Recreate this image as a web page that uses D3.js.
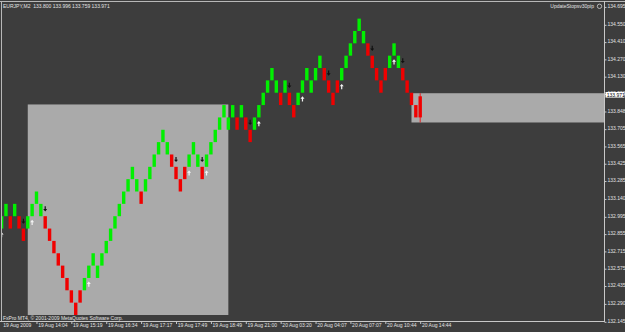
<!DOCTYPE html>
<html>
<head>
<meta charset="utf-8">
<script src="https://cdn.jsdelivr.net/npm/d3@7"></script>
<style>
  body { margin: 0; background: #3d3d3d; }
  svg { display: block; }
  text { font-family: "Liberation Sans", Arial, sans-serif; font-size: 5px; fill: #e2e2e2; }
</style>
</head>
<body>
<div id="chart"></div>
<script>
const width = 625;
const height = 332;

// renko bricks: low price of each brick and its colour (G = up, R = down)
const brickLow = [
  132.9, 133.0, 132.9, 133.0, 132.9, 132.8, 132.9, 133.0, 133.1, 133.0,
  132.9, 132.8, 132.7, 132.6, 132.5, 132.4, 132.3, 132.2, 132.3, 132.4,
  132.5, 132.6, 132.5, 132.6, 132.7, 132.8, 132.9, 133.0, 133.1, 133.2,
  133.3, 133.2, 133.1, 133.2, 133.3, 133.4, 133.5, 133.6, 133.5, 133.4,
  133.3, 133.2, 133.3, 133.4, 133.5, 133.4, 133.3, 133.4, 133.5, 133.6,
  133.7, 133.8, 133.7, 133.8, 133.7, 133.8, 133.7, 133.6, 133.7, 133.8,
  133.9, 134.0, 134.1, 134.0, 133.9, 134.0, 133.9, 133.8, 133.9, 134.0,
  134.1, 134.0, 134.1, 134.2, 134.1, 134.0, 133.9, 134.0, 134.1, 134.2,
  134.3, 134.4, 134.5, 134.4, 134.3, 134.2, 134.1, 134.0, 134.1, 134.2,
  134.3, 134.2, 134.1, 134.0, 133.9, 133.8
];
const brickColor = ("GGRGRRGGGG" + "RRRRRRRRRG" + "GGGGGGGGGG" + "GGRGGGGGGR" + "RRRGGGRGGG" +
                    "GGGGRGRRGG" + "GGGGRGRRGG" + "GGGGRRRRGG" + "GGGGRRRRRG" + "GGRRRR").split("");
const brickSize = 0.10;

// current (forming) bar, O H L C
const lastBar = { open: 133.800, high: 133.996, low: 133.759, close: 133.971 };

// signal arrows (bar numbers)
const buyBars = [1, 8, 21, 44, 48, 60, 70, 79, 91];
const sellBars = [6, 11, 41, 47, 58, 67, 76, 86, 93];

// shaded zones
const zoneLeft = { from: 7, to: 53, top: 133.905, bottom: 132.2 };
const zoneRight = { from: 95, top: 133.996, bottom: 133.759 };

// axis labels
const priceTicks = [134.695, 134.550, 134.410, 134.270, 134.130, 133.990, 133.848, 133.705, 133.565,
  133.425, 133.285, 133.140, 132.995, 132.855, 132.715, 132.575, 132.435, 132.290, 132.145];
const timeTickBars = [1, 9, 17, 25, 33, 41, 49, 57, 65, 73, 81, 89, 97];
const timeLabels = ["19 Aug 2009", "19 Aug 14:04", "19 Aug 15:19", "19 Aug 16:34", "19 Aug 17:17",
  "19 Aug 17:49", "19 Aug 18:49", "19 Aug 21:00", "20 Aug 03:20", "20 Aug 04:07",
  "20 Aug 07:07", "20 Aug 10:44", "20 Aug 14:44"];

const plotRight = 605;
const plotBottom = 322;

const svg = d3.select("#chart").append("svg")
  .attr("width", width)
  .attr("height", height);

svg.append("rect").attr("width", width).attr("height", height).attr("fill", "#3d3d3d");

const x = d3.scaleLinear().domain([1, 97]).range([1.6, 420.2]);
const y = d3.scaleLinear().domain([132.2, 134.695]).range([315, 6.9]);
const barW = 3.4;

const plot = svg.append("g");
plot.append("clipPath").attr("id", "clip")
  .append("rect").attr("x", 1.5).attr("y", 1.5).attr("width", plotRight - 1.5).attr("height", plotBottom - 1.5);
const inner = plot.append("g").attr("clip-path", "url(#clip)");

// zones
inner.append("rect")
  .attr("x", x(zoneLeft.from)).attr("y", y(zoneLeft.top))
  .attr("width", x(zoneLeft.to) - x(zoneLeft.from))
  .attr("height", y(zoneLeft.bottom) - y(zoneLeft.top))
  .attr("fill", "#aaaaaa");
inner.append("rect")
  .attr("x", x(zoneRight.from)).attr("y", y(zoneRight.top))
  .attr("width", plotRight - x(zoneRight.from))
  .attr("height", y(zoneRight.bottom) - y(zoneRight.top))
  .attr("fill", "#aaaaaa");

// bricks
const bricks = brickLow.map((low, i) => ({ bar: i + 1, low: low, up: brickColor[i] === "G" }));
inner.append("g")
  .selectAll("rect")
  .data(bricks)
  .enter().append("rect")
  .attr("x", d => x(d.bar) - barW / 2)
  .attr("y", d => y(d.low + brickSize))
  .attr("width", barW)
  .attr("height", d => y(d.low) - y(d.low + brickSize))
  .attr("fill", d => d.up ? "#00f000" : "#f00000");

// last bar with its wick
const lb = brickLow.length + 1;
inner.append("line")
  .attr("x1", x(lb)).attr("x2", x(lb))
  .attr("y1", y(lastBar.high)).attr("y2", y(lastBar.low))
  .attr("stroke", "#f00000").attr("stroke-width", 0.8);
inner.append("rect")
  .attr("x", x(lb) - barW / 2).attr("y", y(lastBar.close))
  .attr("width", barW).attr("height", y(lastBar.open) - y(lastBar.close))
  .attr("fill", "#f00000");

// arrows
const byBar = new Map(bricks.map(d => [d.bar, d]));
inner.append("g")
  .selectAll("path")
  .data(sellBars)
  .enter().append("path")
  .attr("transform", d => `translate(${x(d)},${y(byBar.get(d).low + brickSize) - 7.3})`)
  .attr("d", "M-0.6,-2.6H0.6V0.2H2L0,2.6L-2,0.2H-0.6Z")
  .attr("fill", "#111");
inner.append("g")
  .selectAll("path")
  .data(buyBars)
  .enter().append("path")
  .attr("transform", d => `translate(${x(d)},${y(byBar.get(d).low) + 6.2})`)
  .attr("d", "M-0.6,2.6H0.6V-0.2H2L0,-2.6L-2,-0.2H-0.6Z")
  .attr("fill", "#f4f4f4");

// frame
svg.append("path")
  .attr("d", `M0,1.5H${width}M1.5,1.5V${plotBottom}`)
  .attr("stroke", "#b8b8b8").attr("stroke-width", 1).attr("fill", "none");

// price axis
const yAxis = d3.axisRight(y).tickValues(priceTicks).tickSize(2).tickPadding(1)
  .tickFormat(d3.format(".3f"));
const ya = svg.append("g").attr("transform", `translate(${plotRight - 0.5},0)`).call(yAxis);
ya.select(".domain").attr("stroke", "#c8c8c8").attr("d", `M0,1V${plotBottom}`);
ya.selectAll(".tick line").attr("stroke", "#c8c8c8");
ya.selectAll(".tick text").attr("dy", "0.15em").attr("fill", "#e2e2e2").attr("font-size", 4.7)
  .attr("font-family", "Liberation Sans, Arial, sans-serif");

// current price highlight
const hl = svg.append("g").attr("transform", `translate(${plotRight + 0.5},${y(lastBar.close) - 1.5})`);
hl.append("rect").attr("x", 0).attr("y", -2.8).attr("width", 19).attr("height", 5.6).attr("fill", "#ffffff");
hl.append("text").attr("x", 1.2).attr("dy", "0.35em").attr("font-size", 4.7)
  .style("fill", "#000").text(lastBar.close.toFixed(3));

// time axis
const xAxis = d3.axisBottom(x).tickValues(timeTickBars).tickSize(2.5)
  .tickFormat((d, i) => timeLabels[i]);
const xa = svg.append("g").attr("transform", `translate(0,${plotBottom - 0.5})`).call(xAxis);
xa.select(".domain").attr("stroke", "#c8c8c8").attr("d", `M0,0H${plotRight}`);
xa.selectAll(".tick line").attr("stroke", "#c8c8c8");
xa.selectAll(".tick").filter(d => d === 1).select("line").remove();
xa.selectAll(".tick text")
  .attr("text-anchor", "start").attr("x", 1.2).attr("y", 2.2).attr("dy", "0.71em")
  .attr("fill", "#e2e2e2").attr("font-size", 5).attr("font-family", "Liberation Sans, Arial, sans-serif");

// captions
svg.append("text").attr("x", 3).attr("y", 8.2).text("EURJPY,M2  133.800 133.996 133.759 133.971")
  .attr("xml:space", "preserve");
svg.append("text").attr("x", 594).attr("y", 8.2).attr("text-anchor", "end").text("UpdateStopsv30pip");
svg.append("circle").attr("cx", 599.5).attr("cy", 6.3).attr("r", 2.2)
  .attr("fill", "none").attr("stroke", "#d0d0d0").attr("stroke-width", 0.8);
svg.append("text").attr("x", 3).attr("y", 319.5).text("FxPro MT4, \u00a9 2001-2009 MetaQuotes Software Corp.");
</script>
</body>
</html>
